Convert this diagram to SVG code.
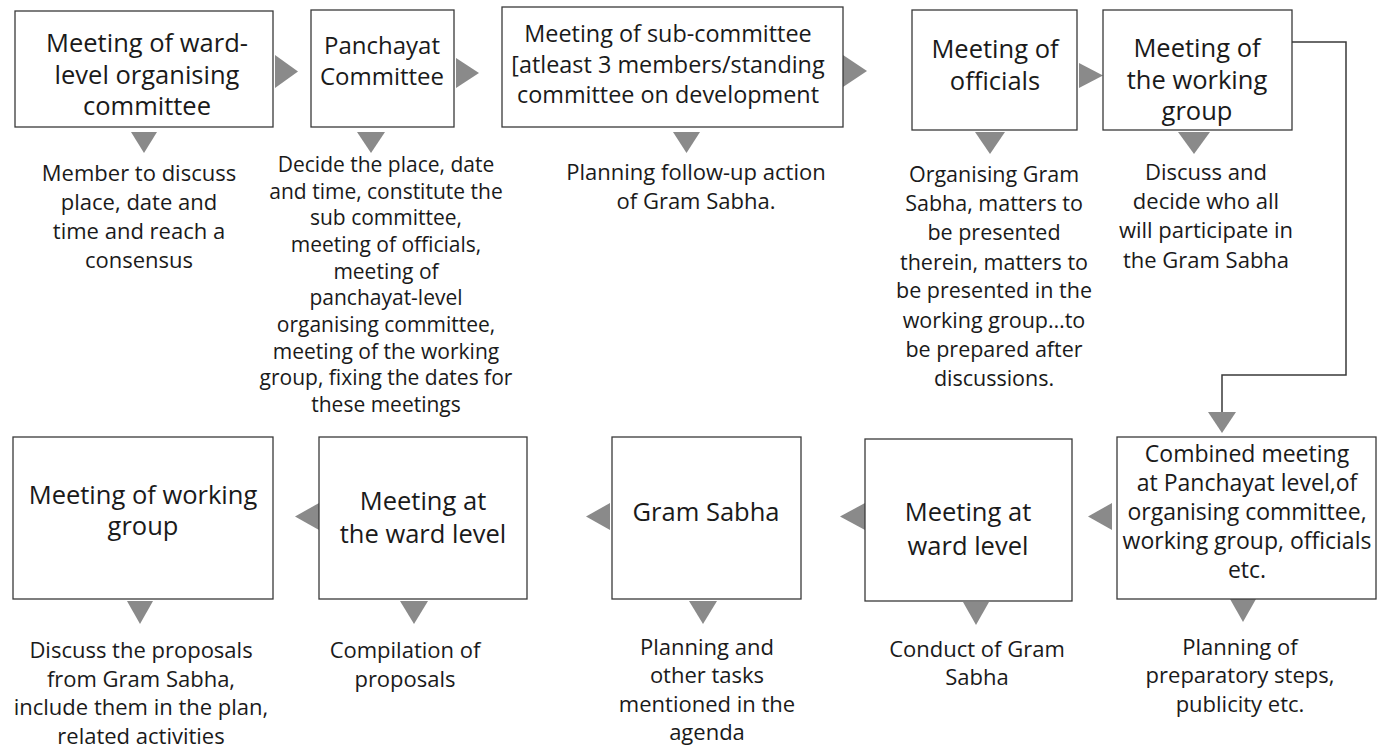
<svg xmlns="http://www.w3.org/2000/svg" width="1381" height="750" viewBox="0 0 1381 750">
<style>
  .box { fill: #ffffff; stroke: #3a3a3a; stroke-width: 1.3; }
  .tri { fill: #8a8a8a; }
  .t { font-family: "Open Sans", "Liberation Sans", sans-serif; fill: #1a1a1a; text-anchor: middle; }
  .h { font-size: 25.5px; }
  .d { font-size: 22px; }
  .conn { fill: none; stroke: #3a3a3a; stroke-width: 1.5; }
</style>
<rect width="1381" height="750" fill="#ffffff"/>

<g id="connectors">
  <polygon class="tri" points="275,55 298,71.5 275,88"/>
  <polygon class="tri" points="456,58 479,73 456,88"/>
  <polygon class="tri" points="843,55 867,71 843,87"/>
  <polygon class="tri" points="1079,63 1103,75.5 1079,88"/>
  <polyline class="conn" points="1292,42 1346,42 1346,375 1222,375 1222,413"/>
  <polygon class="tri" points="1208,412 1236,412 1222,433"/>
  <polygon class="tri" points="1112,503 1088,516.5 1112,530"/>
  <polygon class="tri" points="865,503 840,516.5 865,530"/>
  <polygon class="tri" points="610,503 586,516.5 610,530"/>
  <polygon class="tri" points="319,503 295,516.5 319,530"/>
  <polygon class="tri" points="131,132 157,132 144,153"/>
  <polygon class="tri" points="357,132 385,132 371,153"/>
  <polygon class="tri" points="673,132 700,132 686.5,153"/>
  <polygon class="tri" points="975,132 1005,132 990,154"/>
  <polygon class="tri" points="1178,132 1210,132 1194,154"/>
  <polygon class="tri" points="1230,599 1256,599 1243,622"/>
  <polygon class="tri" points="963,602 989,602 976,625"/>
  <polygon class="tri" points="689,601 717,601 703,624"/>
  <polygon class="tri" points="400,601 428,601 414,624"/>
  <polygon class="tri" points="127,601 153,601 140,624"/>
</g>

<g id="n1">
  <rect class="box" x="15" y="11" width="258" height="116"/>
  <text class="t h"><tspan x="147" y="52">Meeting of ward-</tspan><tspan x="147" y="83.5">level  organising</tspan><tspan x="147" y="115">committee</tspan></text>
  <text class="t d"><tspan x="139" y="181">Member to discuss</tspan><tspan x="139" y="210">place, date and</tspan><tspan x="139" y="239">time and reach a</tspan><tspan x="139" y="268">consensus</tspan></text>
</g>

<g id="n2">
  <rect class="box" x="311" y="10" width="143" height="117"/>
  <text class="t" style="font-size:24px"><tspan x="382" y="54">Panchayat</tspan><tspan x="382" y="85">Committee</tspan></text>
  <text class="t" style="font-size:21px"><tspan x="386" y="172">Decide the place, date</tspan><tspan x="386" y="198.7">and time, constitute the</tspan><tspan x="386" y="225.3">sub committee,</tspan><tspan x="386" y="252">meeting of officials,</tspan><tspan x="386" y="278.7">meeting of</tspan><tspan x="386" y="305.3">panchayat-level</tspan><tspan x="386" y="332">organising committee,</tspan><tspan x="386" y="358.7">meeting of the working</tspan><tspan x="386" y="385.3">group, fixing the dates for</tspan><tspan x="386" y="412">these meetings</tspan></text>
</g>

<g id="n3">
  <rect class="box" x="502" y="7" width="341" height="120"/>
  <text class="t" style="font-size:23.4px"><tspan x="668" y="42">Meeting of sub-committee</tspan><tspan x="668" y="73">[atleast 3 members/standing</tspan><tspan x="668" y="103">committee on development</tspan></text>
  <text class="t d"><tspan x="696" y="180">Planning follow-up action</tspan><tspan x="696" y="209">of Gram Sabha.</tspan></text>
</g>

<g id="n4">
  <rect class="box" x="912" y="10" width="165" height="120"/>
  <text class="t h"><tspan x="995" y="58">Meeting of</tspan><tspan x="995" y="90">officials</tspan></text>
  <text class="t" style="font-size:21.5px"><tspan x="994" y="182">Organising Gram</tspan><tspan x="994" y="211">Sabha, matters to</tspan><tspan x="994" y="240">be presented</tspan><tspan x="994" y="270">therein, matters to</tspan><tspan x="994" y="298">be presented in the</tspan><tspan x="994" y="328">working group…to</tspan><tspan x="994" y="357">be prepared after</tspan><tspan x="994" y="386">discussions.</tspan></text>
</g>

<g id="n5">
  <rect class="box" x="1103" y="10" width="189" height="120"/>
  <text class="t h"><tspan x="1197" y="57">Meeting of</tspan><tspan x="1197" y="88.5">the working</tspan><tspan x="1197" y="120">group</tspan></text>
  <text class="t d"><tspan x="1206" y="180">Discuss and</tspan><tspan x="1206" y="209">decide who all</tspan><tspan x="1206" y="238">will participate in</tspan><tspan x="1206" y="268">the Gram Sabha</tspan></text>
</g>

<g id="n6">
  <rect class="box" x="1117" y="437" width="259" height="162"/>
  <text class="t" style="font-size:23px"><tspan x="1247" y="462">Combined meeting</tspan><tspan x="1247" y="491">at Panchayat level,of</tspan><tspan x="1247" y="520">organising committee,</tspan><tspan x="1247" y="549">working group, officials</tspan><tspan x="1247" y="578">etc.</tspan></text>
  <text class="t d"><tspan x="1240" y="655">Planning of</tspan><tspan x="1240" y="683">preparatory steps,</tspan><tspan x="1240" y="712">publicity etc.</tspan></text>
</g>

<g id="n7">
  <rect class="box" x="865" y="439" width="207" height="162"/>
  <text class="t h"><tspan x="968" y="521">Meeting at</tspan><tspan x="968" y="555">ward level</tspan></text>
  <text class="t d"><tspan x="977" y="657">Conduct of Gram</tspan><tspan x="977" y="685">Sabha</tspan></text>
</g>

<g id="n8">
  <rect class="box" x="612" y="437" width="189" height="162"/>
  <text class="t h"><tspan x="706" y="521">Gram Sabha</tspan></text>
  <text class="t d"><tspan x="707" y="655">Planning and</tspan><tspan x="707" y="683">other tasks</tspan><tspan x="707" y="712">mentioned in the</tspan><tspan x="707" y="740">agenda</tspan></text>
</g>

<g id="n9">
  <rect class="box" x="319" y="437" width="208" height="162"/>
  <text class="t h"><tspan x="423" y="510">Meeting at</tspan><tspan x="423" y="543">the ward level</tspan></text>
  <text class="t d"><tspan x="405" y="658">Compilation of</tspan><tspan x="405" y="687">proposals</tspan></text>
</g>

<g id="n10">
  <rect class="box" x="13" y="437" width="260" height="162"/>
  <text class="t h"><tspan x="143" y="504">Meeting of working</tspan><tspan x="143" y="535">group</tspan></text>
  <text class="t d"><tspan x="141" y="658">Discuss the proposals</tspan><tspan x="141" y="687">from Gram Sabha,</tspan><tspan x="141" y="715">include them in the plan,</tspan><tspan x="141" y="744">related activities</tspan></text>
</g>
</svg>
